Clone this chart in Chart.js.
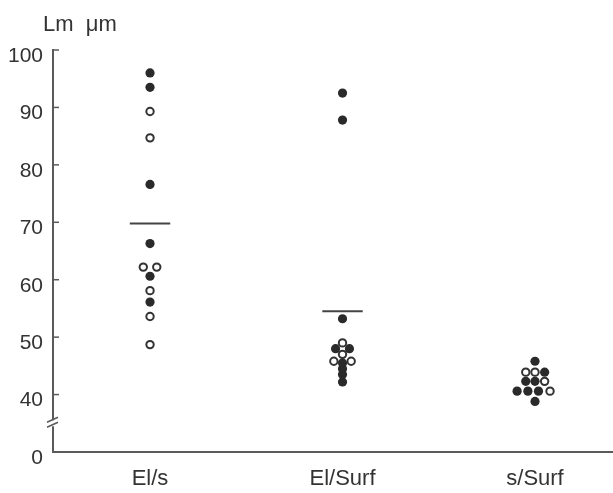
<!DOCTYPE html>
<html>
<head>
<meta charset="utf-8">
<script src="https://cdn.jsdelivr.net/npm/chart.js@4/dist/chart.umd.min.js"></script>
<style>
  html, body { margin: 0; background: #fff; overflow: hidden; }
  #wrap { width: 613px; height: 493px; position: relative; }
</style>
</head>
<body>
<div id="wrap"><canvas id="chart-lm"></canvas></div>
<script>
"use strict"

// groups along the x axis
var categories = ['El/s', 'El/Surf', 's/Surf']
var yTicks = [30, 40, 50, 60, 70, 80, 90, 100]   // 30 is shown as "0" below the break
var means = [69.8, 54.5, null]

// filled dots: value and sideways jitter (in group units) per group
var filledValues = [
    [96.0, 93.5, 76.6, 66.3, 60.6, 56.1],
    [92.5, 87.8, 53.2, 48.0, 48.0, 45.5, 44.5, 43.5, 42.2],
    [45.8, 43.9, 42.3, 42.3, 40.6, 40.6, 40.6, 38.8]
]
var filledJitter = [
    [0, 0, 0, 0, 0, 0],
    [0, 0, 0, -0.036, 0.036, 0, 0, 0, 0],
    [0, 0.05, -0.048, 0, -0.093, -0.037, 0.018, 0]
]

// open dots
var openValues = [
    [89.3, 84.7, 62.2, 62.2, 58.1, 53.6, 48.7],
    [49.0, 47.0, 45.8, 45.8],
    [43.9, 43.9, 42.3, 40.6]
]
var openJitter = [
    [0, 0, -0.035, 0.035, 0, 0, 0],
    [0, 0, -0.045, 0.045],
    [-0.048, 0, 0.05, 0.078]
]

var ink = '#333'
var axisColor = '#5a5a5a'
var fontFamily = "'Liberation Sans', Arial, sans-serif"

function toPoints(values, jitter) {
    var pts = []
    values.forEach(function (group, i) {
        group.forEach(function (v, j) {
            pts.push({ x: i + 1 + jitter[i][j], y: v })
        })
    })
    return pts
}

var datasets = [{
    label: 'filled',
    data: toPoints(filledValues, filledJitter),
    pointRadius: 4.6,
    pointBackgroundColor: '#2a2a2a',
    pointBorderColor: '#2a2a2a',
    pointBorderWidth: 0,
    showLine: false
}, {
    label: 'open',
    data: toPoints(openValues, openJitter),
    pointRadius: 3.7,
    pointBackgroundColor: '#fff',
    pointBorderColor: ink,
    pointBorderWidth: 2,
    showLine: false
}]

var halfWidth = 0.105
means.forEach(function (m, i) {
    if (m === null) return
    datasets.push({
        label: 'mean ' + categories[i],
        data: [{ x: i + 1 - halfWidth, y: m }, { x: i + 1 + halfWidth, y: m }],
        showLine: true,
        borderColor: '#444',
        borderWidth: 2,
        pointRadius: 0
    })
})

// inward tick marks, axis break and the unit label
var axisExtras = {
    id: 'axisExtras',
    afterDraw: function (chart) {
        var ctx = chart.ctx
        var y = chart.scales.y
        var area = chart.chartArea
        var left = area.left
        ctx.save()
        ctx.strokeStyle = axisColor
        // x axis runs on to the page edge
        ctx.lineWidth = 2
        ctx.beginPath()
        ctx.moveTo(area.right - 1, area.bottom)
        ctx.lineTo(chart.width, area.bottom)
        ctx.stroke()
        ctx.lineWidth = 1.5
        yTicks.forEach(function (v) {
            if (v === yTicks[0]) return
            var py = y.getPixelForValue(v)
            ctx.beginPath()
            ctx.moveTo(left, py)
            ctx.lineTo(left + 6, py)
            ctx.stroke()
        })
        // break marks
        var pb = y.getPixelForValue(35)
        ctx.fillStyle = '#fff'
        ctx.fillRect(left - 3, pb - 3, 6, 6)
        ctx.lineWidth = 1.5
        ctx.beginPath()
        ctx.moveTo(left - 6, pb - 1)
        ctx.lineTo(left + 5, pb - 6)
        ctx.moveTo(left - 6, pb + 4)
        ctx.lineTo(left + 5, pb - 1)
        ctx.stroke()
        // unit label
        ctx.fillStyle = ink
        ctx.font = '22px ' + fontFamily
        ctx.textBaseline = 'alphabetic'
        ctx.fillText('Lm  \u03bcm', left - 10, 31)
        ctx.restore()
    }
}

var ctx = document.getElementById('chart-lm').getContext('2d')
var chartLm = new Chart(ctx, {
    type: 'scatter',
    data: { datasets: datasets },
    options: {
        responsive: true,
        maintainAspectRatio: false,
        animation: false,
        clip: false,
        layout: { padding: { top: 50, right: 0, left: 0, bottom: 0 } },
        plugins: {
            legend: { display: false },
            tooltip: { enabled: false }
        },
        scales: {
            x: {
                type: 'linear',
                min: 0.496,
                max: 3.374,
                grid: { display: false },
                border: { display: true, color: axisColor, width: 2 },
                afterBuildTicks: function (scale) {
                    scale.ticks = categories.map(function (c, i) { return { value: i + 1 } })
                },
                afterFit: function (scale) { scale.height = 41 },
                ticks: {
                    color: ink,
                    padding: 6,
                    font: { family: fontFamily, size: 22 },
                    maxRotation: 0,
                    callback: function (v) { return categories[v - 1] }
                }
            },
            y: {
                type: 'linear',
                min: 30,
                max: 100,
                grid: { display: false },
                border: { display: true, color: axisColor, width: 2 },
                afterBuildTicks: function (scale) {
                    scale.ticks = yTicks.map(function (v) { return { value: v } })
                },
                afterFit: function (scale) { scale.width = 53 },
                ticks: {
                    color: ink,
                    padding: 2,
                    labelOffset: 6,
                    font: { family: fontFamily, size: 21 },
                    callback: function (v) { return v === yTicks[0] ? '0' : v }
                }
            }
        }
    },
    plugins: [axisExtras]
})
</script>
</body>
</html>
